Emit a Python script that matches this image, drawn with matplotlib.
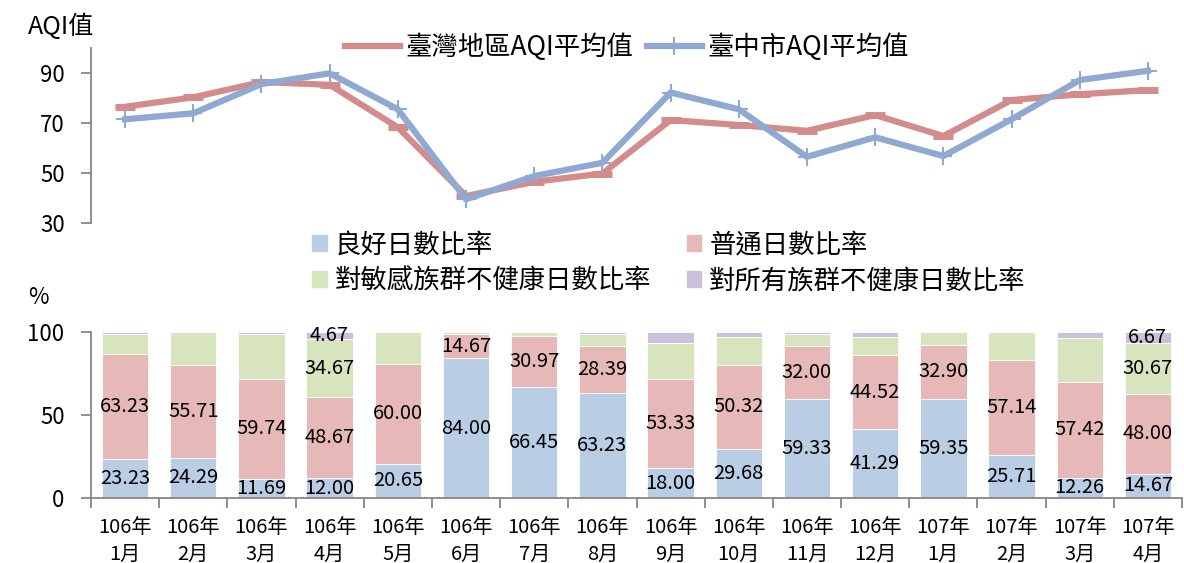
import numpy as np
import matplotlib
matplotlib.use("Agg")
import matplotlib.pyplot as plt
from matplotlib.patches import Patch
from matplotlib.lines import Line2D

plt.rcParams['font.family'] = ['Noto Sans CJK TC', 'DejaVu Sans']

# x labels
years = ['106年'] * 12 + ['107年'] * 4
months = ['1月', '2月', '3月', '4月', '5月', '6月', '7月', '8月', '9月', '10月',
          '11月', '12月', '1月', '2月', '3月', '4月']
xlabels = [y + '\n' + m for y, m in zip(years, months)]

# AQI averages
aqi_taiwan = [76.6, 80.4, 86.5, 85.4, 68.4, 40.9, 46.6, 49.9,
              71.3, 69.3, 67.0, 73.3, 64.9, 79.3, 81.6, 83.3]
aqi_taichung = [71.6, 74.0, 85.7, 90.0, 75.6, 39.6, 48.9, 54.2,
                82.3, 75.6, 56.6, 64.4, 56.9, 71.6, 87.3, 91.0]

# day ratios (%)
good = [23.23, 24.29, 11.69, 12.00, 20.65, 84.00, 66.45, 63.23,
        18.00, 29.68, 59.33, 41.29, 59.35, 25.71, 12.26, 14.67]
moderate = [63.23, 55.71, 59.74, 48.67, 60.00, 14.67, 30.97, 28.39,
            53.33, 50.32, 32.00, 44.52, 32.90, 57.14, 57.42, 48.00]
sensitive = [12.25, 20.00, 27.28, 34.67, 19.35, 1.33, 2.58, 7.09,
             21.67, 16.77, 7.34, 10.96, 7.75, 17.15, 26.45, 30.67]
unhealthy = [1.29, 0.00, 1.29, 4.67, 0.00, 0.00, 0.00, 1.29,
             7.00, 3.23, 1.33, 3.23, 0.00, 0.00, 3.87, 6.67]
# which green / purple segments carry a data label
sensitive_shown = [3, 15]
unhealthy_shown = [3, 15]

series_names = ['良好日數比率', '普通日數比率', '對敏感族群不健康日數比率', '對所有族群不健康日數比率']
bar_colors = ['#B9CDE5', '#E6B9B8', '#D7E4BD', '#CCC1DA']

red = '#D38C8B'
blue = '#8FA9D2'
spine_c = '#868686'

fig = plt.figure(figsize=(11.84, 5.63), dpi=100)
x = np.arange(len(xlabels))

# ---- top: line chart
ax1 = fig.add_axes([91 / 1184, 1 - 223.3 / 563, 1091 / 1184, 175 / 563])
ax1.plot(x, aqi_taiwan, color=red, lw=4.5, marker='_', ms=14, mew=5,
         solid_capstyle='butt')
ax1.plot(x, aqi_taichung, color=blue, lw=4.5, marker='+', ms=13, mew=1.5)
ax1.set_xlim(-0.5, 15.5)
ax1.set_ylim(30, 100)
ax1.set_yticks([30, 50, 70, 90])
ax1.set_xticks([])
for s in ['top', 'right', 'bottom']:
    ax1.spines[s].set_visible(False)
ax1.spines['left'].set_color(spine_c)
ax1.spines['left'].set_linewidth(1.3)
ax1.tick_params(axis='y', length=7, width=1.3, color=spine_c, labelsize=16, pad=12)
fig.text(28 / 1184, 1 - 27 / 563, 'AQI值', fontsize=18, va='center', ha='left')

h_line = [Line2D([], [], color=red, lw=4.5),
          Line2D([], [], color=blue, lw=4.5, marker='+', ms=13, mew=1.5)]
fig.legend(h_line, ['臺灣地區AQI平均值', '臺中市AQI平均值'], loc='center',
           bbox_to_anchor=(627 / 1184, 1 - 47 / 563), ncol=2, frameon=False,
           fontsize=19, handlelength=2.1, handletextpad=0.2, columnspacing=0.5)

# ---- bottom: stacked bars
ax2 = fig.add_axes([91 / 1184, 1 - 498 / 563, 1091 / 1184, 166.3 / 563])
w = 0.68
stacks = [good, moderate, sensitive, unhealthy]
bottom = np.zeros(len(x))
for vals, col, name in zip(stacks, bar_colors, series_names):
    ax2.bar(x, vals, w, bottom=bottom, color=col, edgecolor='white', lw=0.6, label=name)
    bottom = bottom + np.array(vals)

label_kw = dict(ha='center', va='center', fontsize=14.5)
for i in x:
    ax2.text(i, good[i] / 2, f'{good[i]:.2f}', **label_kw)
    ax2.text(i, good[i] + moderate[i] / 2, f'{moderate[i]:.2f}', **label_kw)
for i in sensitive_shown:
    ax2.text(i, good[i] + moderate[i] + sensitive[i] / 2, f'{sensitive[i]:.2f}', **label_kw)
for i in unhealthy_shown:
    base = good[i] + moderate[i] + sensitive[i]
    ax2.text(i, base + unhealthy[i] / 2, f'{unhealthy[i]:.2f}', **label_kw)

ax2.set_xlim(-0.5, 15.5)
ax2.set_ylim(0, 100)
ax2.set_yticks([0, 50, 100])
ax2.set_xticks(x)
ax2.set_xticklabels(xlabels, fontsize=14.5, linespacing=1.35)
ax2.set_xticks(np.arange(-0.5, 16), minor=True)
ax2.tick_params(axis='x', which='major', length=0, pad=14)
ax2.tick_params(axis='x', which='minor', length=7, width=1.3, color=spine_c)
ax2.tick_params(axis='y', length=7, width=1.3, color=spine_c, labelsize=16, pad=12)
for s in ['top', 'right']:
    ax2.spines[s].set_visible(False)
for s in ['left', 'bottom']:
    ax2.spines[s].set_color(spine_c)
    ax2.spines[s].set_linewidth(1.3)
fig.text(38 / 1184, 1 - 297 / 563, '%', fontsize=16, va='center', ha='center')

h_bar = [Patch(color=c) for c in bar_colors]
order = [0, 2, 1, 3]
fig.legend([h_bar[k] for k in order], [series_names[k] for k in order], loc='center',
           bbox_to_anchor=(669 / 1184, 1 - 263 / 563), ncol=2, frameon=False,
           fontsize=19, handlelength=0.55, handleheight=0.55, handletextpad=0.3,
           columnspacing=1.35, labelspacing=0.35)

fig.savefig('out.png', dpi=100)
